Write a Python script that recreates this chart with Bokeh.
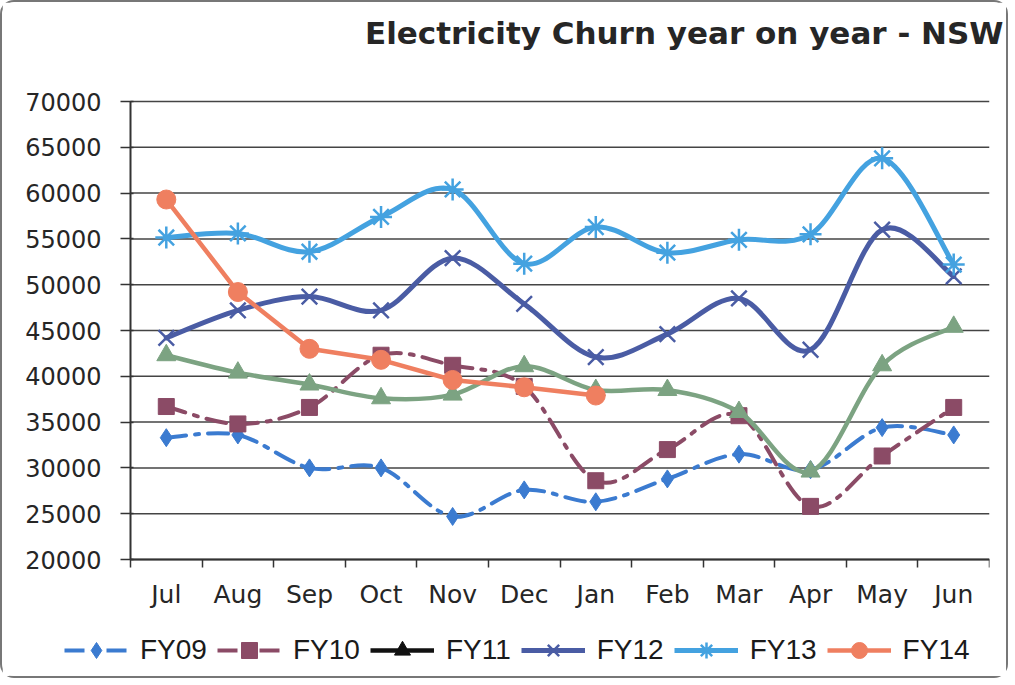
from bokeh.plotting import figure
from bokeh.models import (Range1d, FixedTicker, Legend, LegendItem, ColumnDataSource, Title)
from bokeh.embed import file_html
from bokeh.resources import INLINE

months = ["Jul", "Aug", "Sep", "Oct", "Nov", "Dec", "Jan", "Feb", "Mar", "Apr", "May", "Jun"]
fy09 = [33300, 33600, 30000, 30000, 24700, 27600, 26300, 28800, 31500, 29800, 34400, 33600]
fy10 = [36700, 34800, 36600, 42300, 41200, 38900, 28600, 32000, 35700, 25800, 31300, 36600]
fy11 = [42300, 40400, 39100, 37600, 38000, 41100, 38500, 38500, 36100, 29600, 41200, 45400]
fy12 = [44200, 47200, 48700, 47200, 52900, 47900, 42100, 44600, 48500, 42900, 56000, 50900]
fy13 = [55150, 55600, 53600, 57400, 60400, 52300, 56300, 53500, 54900, 55500, 63800, 52200]
fy14 = [59300, 49200, 43000, 41800, 39600, 38800, 37900]
series_names = ["FY09", "FY10", "FY11", "FY12", "FY13", "FY14"]
y_ticks = [20000, 25000, 30000, 35000, 40000, 45000, 50000, 55000, 60000, 65000, 70000]

FONT = "DejaVu Sans"

# ---- layout (page pixels); the frame is enlarged so the legend and labels live inside it
W, H, ORIG = 1008, 678, 3
FRAME_L, FRAME_R, FRAME_T, FRAME_B = 10, 990, 78, 676
PLOT_L, PLOT_R, PLOT_T, PLOT_B = 131, 990, 102, 560
ymin, ymax = y_ticks[0], y_ticks[-1]
px_x = (PLOT_R - PLOT_L) / len(months)
px_y = (PLOT_B - PLOT_T) / (ymax - ymin)
x_start = -(PLOT_L - FRAME_L) / px_x
x_end = len(months) + (FRAME_R - PLOT_R) / px_x
y_start = ymin - (FRAME_B - PLOT_B) / px_y
y_end = ymax + (PLOT_T - FRAME_T) / px_y

p = figure(width=W, height=H, output_backend="svg", toolbar_location=None, title=None,
           x_range=Range1d(x_start, x_end), y_range=Range1d(y_start, y_end),
           min_border_left=FRAME_L - ORIG, min_border_right=W + ORIG - FRAME_R,
           min_border_top=FRAME_T - ORIG, min_border_bottom=H + ORIG - FRAME_B)
p.styles = {"border": "2px solid #777", "border-radius": "14px"}
p.outline_line_color = None
p.background_fill_color = "white"
p.border_fill_color = "white"

# spacer (nearest to the frame), then the real title above it
p.add_layout(Title(text=" ", text_font_size="2px", standoff=20), "above")
p.add_layout(Title(text="Electricity Churn year on year - NSW", align="right",
                   text_font=FONT, text_font_size="31px", text_font_style="bold",
                   text_color="#262626", standoff=6, offset=-14), "above")

centers = [i + 0.5 for i in range(len(months))]
xa = p.xaxis[0]
xa.fixed_location = ymin
xa.bounds = (0, len(months))
xa.ticker = FixedTicker(ticks=centers, minor_ticks=list(range(len(months) + 1)))
xa.major_label_overrides = {c: m for c, m in zip(centers, months)}
xa.major_tick_out = 0
xa.major_tick_in = 0
xa.minor_tick_out = 8
xa.minor_tick_in = 0
xa.minor_tick_line_color = "#333"
xa.minor_tick_line_width = 1.5
xa.major_label_standoff = 12
xa.major_label_text_font = FONT
xa.major_label_text_font_size = "25px"
xa.major_label_text_color = "#262626"
xa.axis_line_color = "#333"
xa.axis_line_width = 2

ya = p.yaxis[0]
ya.fixed_location = 0
ya.bounds = (ymin, ymax)
ya.ticker = FixedTicker(ticks=y_ticks)
ya.major_tick_out = 10
ya.major_tick_in = 3
ya.minor_tick_line_color = None
ya.major_tick_line_color = "#333"
ya.major_tick_line_width = 1.5
ya.major_label_standoff = 19
ya.major_label_text_font = FONT
ya.major_label_text_font_size = "24px"
ya.major_label_text_color = "#262626"
ya.axis_line_color = "#333"
ya.axis_line_width = 2

p.xgrid.visible = False
p.ygrid.visible = False
# horizontal gridlines across the category span only
p.segment(x0=[0] * len(y_ticks), x1=[len(months)] * len(y_ticks), y0=y_ticks, y1=y_ticks,
          line_color="#444", line_width=1.5)


def smooth_segments(xs, ys):
    n = len(xs)
    x0, y0, x1, y1, cx0, cy0, cx1, cy1 = [], [], [], [], [], [], [], []
    for i in range(n - 1):
        im1 = max(i - 1, 0)
        ip2 = min(i + 2, n - 1)
        x0.append(xs[i]); y0.append(ys[i])
        x1.append(xs[i + 1]); y1.append(ys[i + 1])
        cx0.append(xs[i] + (xs[i + 1] - xs[im1]) / 6.0)
        cy0.append(ys[i] + (ys[i + 1] - ys[im1]) / 6.0)
        cx1.append(xs[i + 1] - (xs[ip2] - xs[i]) / 6.0)
        cy1.append(ys[i + 1] - (ys[ip2] - ys[i]) / 6.0)
    return dict(x0=x0, y0=y0, x1=x1, y1=y1, cx0=cx0, cy0=cy0, cx1=cx1, cy1=cy1)


styles = [
    # name, data, line color, legend color, dash, width, marker, size, smooth
    ("FY09", fy09, "#3b7bd0", "#3b7bd0", "20 9 4 9", 4, "diamond", 18, True),
    ("FY10", fy10, "#8b4b66", "#8b4b66", "20 9 4 9", 4, "square", 16, True),
    ("FY11", fy11, "#7ca382", "#111111", "solid", 4.5, "triangle", 19, True),
    ("FY12", fy12, "#4a5ca4", "#4a5ca4", "solid", 5, "x", 22, True),
    ("FY13", fy13, "#44a2e0", "#44a2e0", "solid", 5, "asterisk", 22, True),
    ("FY14", fy14, "#ef7f60", "#ef7f60", "solid", 4.5, "circle", 19, False),
]

items = []
for name, data, col, lcol, dash, lw, marker, size, smooth in styles:
    xs = centers[:len(data)]
    if smooth:
        src = ColumnDataSource(smooth_segments(xs, data))
        p.bezier(x0="x0", y0="y0", x1="x1", y1="y1", cx0="cx0", cy0="cy0", cx1="cx1", cy1="cy1",
                 source=src, line_color=col, line_width=lw, line_dash=dash, line_cap="round")
    else:
        p.line(xs, data, line_color=col, line_width=lw, line_dash=dash, line_join="round",
               line_cap="round")
    line_outline = marker in ("x", "asterisk")
    p.scatter(xs, data, marker=marker, size=size,
              fill_color=col, line_color=col, line_width=2.5 if line_outline else 1)
    # hidden legend proxies (same data, legend styling)
    lr = p.line(xs, data, line_color=lcol, line_width=lw, line_dash=dash, visible=False)
    sr = p.scatter(xs, data, marker=marker, size=size, fill_color=lcol, line_color=lcol,
                   line_width=2.5 if line_outline else 1, visible=False)
    items.append(LegendItem(label=name, renderers=[lr, sr]))

legend = Legend(items=items, orientation="horizontal", location=(55, 5),
                glyph_width=64, glyph_height=40, label_standoff=12, spacing=10,
                padding=5, margin=0, click_policy="none",
                label_text_font="Liberation Sans", label_text_font_size="28px",
                label_text_color="#1a1a1a",
                border_line_color=None, background_fill_alpha=0)
p.add_layout(legend)

open("out.html", "w").write(file_html(p, INLINE))
